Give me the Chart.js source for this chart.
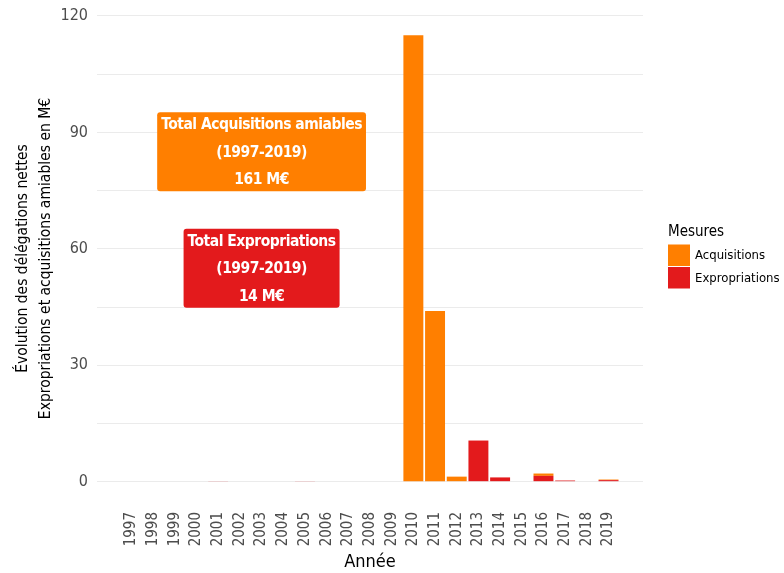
<!DOCTYPE html>
<html lang="fr">
<head>
  <meta charset="UTF-8">
  <title>Acquisitions et expropriations</title>
  <script src="https://cdn.jsdelivr.net/npm/chart.js"></script>
  <style>
    body { margin: 0; background: #ffffff; }
    #wrap { width: 784px; height: 573px; }
  </style>
</head>
<body>
  <div id="wrap"><canvas id="chart"></canvas></div>
  <script>
    const years = [1997, 1998, 1999, 2000, 2001, 2002, 2003, 2004, 2005, 2006, 2007, 2008,
                   2009, 2010, 2011, 2012, 2013, 2014, 2015, 2016, 2017, 2018, 2019];
    // montants en M€
    const acquisitions = [0, 0, 0, 0, 0, 0, 0, 0, 0, 0, 0, 0,
                          0, 115, 44, 1.3, 0, 0, 0, 0.6, 0, 0, 0.15];
    const expropriations = [0, 0, 0, 0, 0.1, 0, 0, 0, 0.1, 0, 0, 0,
                            0, 0, 0, 0, 10.6, 1.1, 0, 1.5, 0.3, 0, 0.4];
    const yTicks = [0, 15, 30, 45, 60, 75, 90, 105, 120];

    const ORANGE = '#FF7F00';
    const RED = '#E31A1C';
    const FONT = "'DejaVu Sans Condensed', 'DejaVu Sans', sans-serif";

    const sum = arr => arr.reduce((a, b) => a + b, 0);
    const toPoints = arr => arr.map((v, i) => ({ x: years[i], y: v }));

    // encadrés de totaux, placés en coordonnées de données
    const boxes = [
      { x: 2003, y: 85, color: ORANGE,
        lines: ['Total Acquisitions amiables', '(1997-2019)', Math.round(sum(acquisitions)) + ' M€'] },
      { x: 2003, y: 55, color: RED,
        lines: ['Total Expropriations', '(1997-2019)', Math.round(sum(expropriations)) + ' M€'] }
    ];

    const totalLabels = {
      id: 'totalLabels',
      afterDatasetsDraw(chart) {
        const { ctx, scales } = chart;
        ctx.save();
        ctx.font = 'bold 15.5px ' + FONT;
        ctx.letterSpacing = '-0.5px';
        ctx.textAlign = 'center';
        ctx.textBaseline = 'middle';
        const lh = 27.5;
        boxes.forEach(b => {
          const cx = scales.x.getPixelForValue(b.x);
          const cy = scales.y.getPixelForValue(b.y);
          const w = Math.max(...b.lines.map(l => ctx.measureText(l).width)) + 8;
          const h = lh * (b.lines.length - 1) + 24;
          ctx.fillStyle = b.color;
          ctx.beginPath();
          ctx.roundRect(cx - w / 2, cy - h / 2, w, h, 3);
          ctx.fill();
          ctx.fillStyle = '#ffffff';
          b.lines.forEach((l, i) => {
            ctx.fillText(l, cx, cy + 1 + (i - (b.lines.length - 1) / 2) * lh);
          });
        });
        ctx.restore();
      }
    };

    // légende à droite : titre puis carrés accolés
    const sideLegend = {
      id: 'sideLegend',
      afterDraw(chart) {
        const { ctx, chartArea } = chart;
        const x = chartArea.right + 25;
        const top = (chartArea.top + chartArea.bottom) / 2 - 34;
        const items = chart.data.datasets.slice().reverse();
        ctx.save();
        ctx.fillStyle = '#000000';
        ctx.textAlign = 'left';
        ctx.textBaseline = 'middle';
        ctx.font = '15px ' + FONT;
        ctx.fillText('Mesures', x, top + 8);
        ctx.font = '13px ' + FONT;
        items.forEach((d, i) => {
          const y = top + 20 + i * 22.5;
          ctx.fillStyle = d.backgroundColor;
          ctx.fillRect(x, y, 22, 21.5);
          ctx.fillStyle = '#000000';
          ctx.fillText(d.label, x + 27, y + 11.5);
        });
        ctx.restore();
      }
    };

    new Chart(document.getElementById('chart'), {
      type: 'bar',
      data: {
        datasets: [
          { label: 'Expropriations', data: toPoints(expropriations), backgroundColor: RED, borderWidth: 0 },
          { label: 'Acquisitions', data: toPoints(acquisitions), backgroundColor: ORANGE, borderWidth: 0 }
        ]
      },
      options: {
        responsive: true,
        maintainAspectRatio: false,
        animation: false,
        datasets: { bar: { barPercentage: 0.92, categoryPercentage: 1 } },
        layout: { padding: { left: 12, right: 141, top: 13, bottom: 0 } },
        scales: {
          x: {
            type: 'linear', stacked: true, offset: false,
            min: 1995.41, max: 2020.59,
            afterBuildTicks: s => { s.ticks = years.map(v => ({ value: v })); },
            afterFit: s => { s.height = 69; s.paddingLeft = 0; s.paddingRight = 0; },
            grid: { display: false, drawTicks: false },
            border: { display: false },
            ticks: { autoSkip: false, minRotation: 90, maxRotation: 90, padding: 8,
                     color: '#4d4d4d', font: { family: FONT, size: 15 },
                     callback: v => String(v) },
            title: { display: true, text: 'Année', color: '#000000', padding: { top: 0, bottom: 0 },
                     font: { family: FONT, size: 18 } }
          },
          y: {
            stacked: true,
            min: -5.75, max: 120.75,
            afterBuildTicks: s => { s.ticks = yTicks.map(v => ({ value: v })); },
            afterFit: s => { s.width = 85; s.paddingTop = 0; s.paddingBottom = 0; },
            grid: { color: '#ebebeb', drawTicks: false },
            border: { display: false },
            ticks: { padding: 9, color: '#4d4d4d', font: { family: FONT, size: 16 },
                     callback: v => (v % 30 === 0 ? String(v) : '') },
            title: { display: true, color: '#000000',
                     text: ['Évolution des délégations nettes', 'Expropriations et acquisitions amiables en M€'],
                     font: { family: FONT, size: 15.5, lineHeight: 1.45 }, padding: { top: 0, bottom: 6 } }
          }
        },
        plugins: {
          legend: { display: false },
          tooltip: { enabled: false }
        }
      },
      plugins: [totalLabels, sideLegend]
    });
  </script>
</body>
</html>
